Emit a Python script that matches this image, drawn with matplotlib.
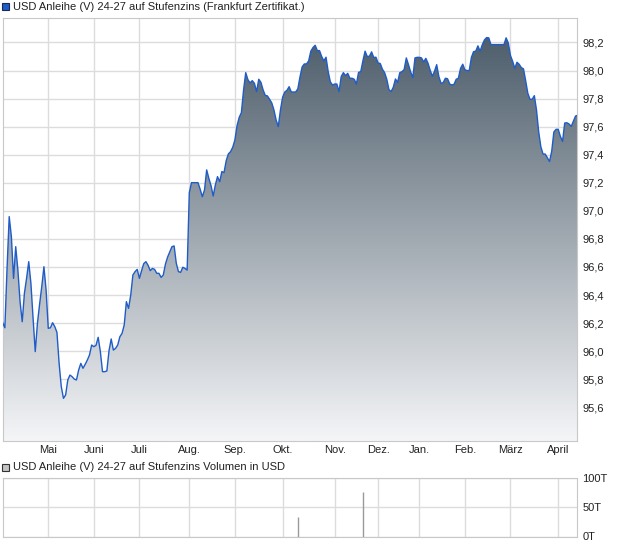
import numpy as np
import matplotlib
matplotlib.use("Agg")
import matplotlib.pyplot as plt
from matplotlib.patches import Polygon, Rectangle
from matplotlib.colors import LinearSegmentedColormap

plt.rcParams["font.family"] = ["Liberation Sans", "DejaVu Sans"]

# ── data (one value per trading day) ──────────────────────────────────────────
price = [
    96.203, 96.167, 96.590, 96.959, 96.817, 96.519, 96.745, 96.578, 96.353, 96.210,
    96.412, 96.519, 96.638, 96.484, 96.234, 95.997, 96.198, 96.334, 96.460, 96.602,
    96.436, 96.163, 96.167, 96.203, 96.175, 96.134, 95.913, 95.747, 95.664, 95.688,
    95.795, 95.830, 95.818, 95.801, 95.795, 95.866, 95.913, 95.878, 95.906, 95.937,
    95.973, 96.044, 96.032, 96.042, 96.099, 95.997, 95.854, 95.854, 95.859, 96.004,
    96.087, 96.008, 96.020, 96.044, 96.103, 96.127, 96.187, 96.353, 96.305, 96.400,
    96.543, 96.567, 96.583, 96.519, 96.574, 96.624, 96.638, 96.612, 96.574, 96.590,
    96.583, 96.555, 96.555, 96.526, 96.543, 96.621, 96.671, 96.707, 96.745, 96.750,
    96.626, 96.567, 96.562, 96.598, 96.590, 96.578, 97.130, 97.201, 97.201, 97.201,
    97.201, 97.154, 97.101, 97.149, 97.292, 97.232, 97.180, 97.106, 97.185, 97.244,
    97.208, 97.280, 97.273, 97.358, 97.406, 97.422, 97.453, 97.505, 97.607, 97.667,
    97.700, 97.861, 97.985, 97.935, 97.912, 97.928, 97.909, 97.850, 97.938, 97.916,
    97.862, 97.823, 97.819, 97.795, 97.769, 97.719, 97.648, 97.600, 97.719, 97.810,
    97.847, 97.859, 97.885, 97.847, 97.847, 97.847, 97.869, 97.954, 98.026, 98.047,
    98.047, 98.069, 98.138, 98.164, 98.180, 98.142, 98.142, 98.100, 98.069, 98.095,
    97.992, 97.919, 97.897, 97.904, 97.904, 97.850, 97.957, 97.985, 97.964, 97.980,
    97.945, 97.945, 97.938, 97.904, 97.987, 97.992, 98.069, 98.138, 98.100, 98.102,
    98.133, 98.093, 98.095, 98.054, 98.050, 98.009, 97.985, 97.938, 97.864, 97.850,
    97.881, 97.940, 97.916, 97.985, 97.992, 98.007, 98.090, 98.042, 97.990, 97.950,
    98.090, 98.094, 98.094, 98.090, 98.061, 98.087, 98.052, 98.002, 97.959, 97.995,
    98.042, 97.957, 97.909, 97.914, 97.945, 97.942, 97.904, 97.897, 97.902, 97.938,
    97.945, 98.016, 98.045, 98.005, 98.000, 98.000, 98.094, 98.135, 98.138, 98.176,
    98.138, 98.183, 98.218, 98.235, 98.233, 98.185, 98.185, 98.185, 98.185, 98.185,
    98.185, 98.185, 98.233, 98.197, 98.107, 98.066, 98.016, 98.059, 98.045, 98.021,
    98.012, 97.928, 97.838, 97.795, 97.795, 97.821, 97.719, 97.564, 97.457, 97.405,
    97.405, 97.379, 97.352, 97.424, 97.562, 97.581, 97.581, 97.531, 97.495, 97.626,
    97.628, 97.619, 97.602, 97.640, 97.676, 97.681,
]
month_labels = ["Mai", "Juni", "Juli", "Aug.", "Sep.", "Okt.", "Nov.", "Dez.",
                "Jan.", "Feb.", "März", "April"]
month_idx = [21, 42, 63, 86, 107, 129, 153, 173, 192, 213, 234, 256]
price_ticks = [95.6, 95.8, 96.0, 96.2, 96.4, 96.6, 96.8, 97.0, 97.2, 97.4, 97.6, 97.8, 98.0, 98.2]

vol_idx = [136, 166]
vol_val = [34, 76]          # in thousand USD
vol_ticks = [0, 50, 100]

title_main = "USD Anleihe (V) 24-27 auf Stufenzins (Frankfurt Zertifikat.)"
title_vol = "USD Anleihe (V) 24-27 auf Stufenzins Volumen in USD"

# ── layout helpers (pixel -> figure fraction) ─────────────────────────────────
W, H = 620, 546
fx = lambda px: px / W
fy = lambda py: 1 - py / H

grid_c = "#dcdcdc"
spine_c = "#c8c8c8"
line_c = "#1f5cc8"
txt_c = "#222222"
fs = 8.0

fig = plt.figure(figsize=(W / 100, H / 100), dpi=100)

# ── main price panel ──────────────────────────────────────────────────────────
ax = fig.add_axes([fx(2.7), fy(441), fx(577.3) - fx(2.7), fy(17.5) - fy(441)])
x = np.arange(len(price))
y = np.array(price)
ymin, ymax = 95.36, 98.378
xmax = 264.8

ax.set_xlim(0, xmax)
ax.set_ylim(ymin, ymax)

# gradient fill under the line
verts = np.column_stack([np.r_[x[0], x, x[-1]], np.r_[ymin, y, ymin]])
poly = Polygon(verts, closed=True, facecolor="none", edgecolor="none")
ax.add_patch(poly)
cmap = LinearSegmentedColormap.from_list("fade", ["#f4f5f7", "#465765"])
grad = np.linspace(1, 0, 256).reshape(-1, 1)
im = ax.imshow(grad, extent=[0, xmax, ymin, ymax], aspect="auto", cmap=cmap,
               vmin=0, vmax=1, origin="upper", zorder=1, interpolation="bilinear")
im.set_clip_path(poly)
ax.plot(x, y, color=line_c, lw=1.0, zorder=3)

ax.set_axisbelow(True)
ax.set_xticks(month_idx)
ax.set_xticklabels(month_labels, fontsize=fs, color=txt_c)
ax.set_yticks(price_ticks)
ax.set_yticklabels([f"{v:.1f}".replace(".", ",") for v in price_ticks],
                   fontsize=fs, color=txt_c)
ax.yaxis.tick_right()
ax.tick_params(axis="both", length=0)
ax.tick_params(axis="y", pad=3.5)
ax.tick_params(axis="x", pad=3)
ax.grid(True, color=grid_c, lw=1.0)
for s in ax.spines.values():
    s.set_color(spine_c)
    s.set_linewidth(0.8)

# ── volume panel ──────────────────────────────────────────────────────────────
axv = fig.add_axes([fx(2.7), fy(536.5), fx(577.3) - fx(2.7), fy(478) - fy(536.5)])
axv.set_xlim(0, xmax)
axv.set_ylim(0, 100)
axv.vlines(vol_idx, 0, vol_val, color="#9a9a9a", lw=1.0, zorder=3)
axv.set_axisbelow(True)
axv.set_xticks(month_idx)
axv.set_xticklabels([])
axv.set_yticks(vol_ticks)
axv.set_yticklabels([f"{v}T" for v in vol_ticks], fontsize=fs, color=txt_c)
axv.yaxis.tick_right()
axv.tick_params(axis="both", length=0)
axv.tick_params(axis="y", pad=3.5)
axv.grid(True, color=grid_c, lw=1.0)
for s in axv.spines.values():
    s.set_color(spine_c)
    s.set_linewidth(0.8)

# ── legend-style headers ──────────────────────────────────────────────────────
fig.patches.append(Rectangle((fx(2), fy(10)), 7 / W, 7 / H, transform=fig.transFigure,
                             facecolor="#1f5cc8", edgecolor="#1a2a50", lw=0.8))
fig.text(fx(13), fy(6.5), title_main, fontsize=fs, color=txt_c, va="center")

fig.patches.append(Rectangle((fx(2), fy(471)), 7 / W, 7 / H, transform=fig.transFigure,
                             facecolor="#c4c4c4", edgecolor="#333333", lw=0.8))
fig.text(fx(13), fy(467.5), title_vol, fontsize=fs, color=txt_c, va="center")

fig.savefig("out.png", dpi=100)
plt.close(fig)
